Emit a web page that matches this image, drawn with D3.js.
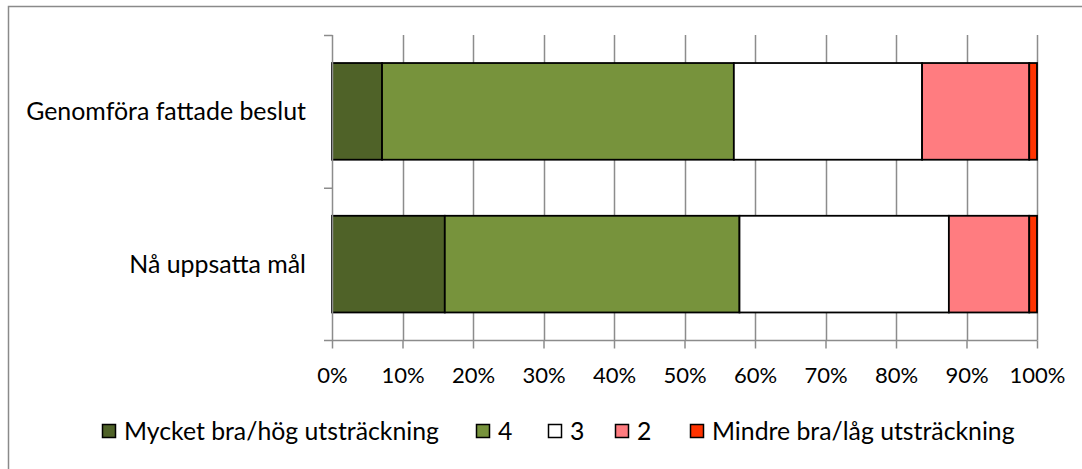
<!DOCTYPE html>
<html><head><meta charset="utf-8">
<script src="https://cdn.jsdelivr.net/npm/d3@7"></script>
<style>body{margin:0;background:#fff}svg{display:block}text{font-family:Lato,"Open Sans",sans-serif;fill:#000}</style>
</head><body>
<svg id="c" width="1082" height="469"></svg>
<script>
const categories = ["Genomföra fattade beslut", "Nå uppsatta mål"];
const seriesNames = ["Mycket bra/hög utsträckning", "4", "3", "2", "Mindre bra/låg utsträckning"];
const seriesColors = ["#4F6228", "#77933C", "#FFFFFF", "#FF7C80", "#FF3300"];
const genomforaValues = [7.1, 49.9, 26.7, 15.2, 1.1];
const naValues = [16.0, 41.8, 29.7, 11.4, 1.1];
const tickValues = [0, 10, 20, 30, 40, 50, 60, 70, 80, 90, 100];
const tickLabels = ["0%", "10%", "20%", "30%", "40%", "50%", "60%", "70%", "80%", "90%", "100%"];

const valuesByCat = [genomforaValues, naValues];
const svg = d3.select("#c");

// chart border (left/top visible)
svg.append("rect").attr("x", 8.5).attr("y", 6.5).attr("width", 1200).attr("height", 600)
  .attr("fill", "none").attr("stroke", "#8a8a8a").attr("stroke-width", 1.5);

const x = d3.scaleLinear().domain([0, 100]).range([332, 1037]);
const y = d3.scaleBand().domain(categories).range([35, 340.5]).paddingInner(0.367).paddingOuter(0.1835);

function fitSize(str, target) {
  const t = svg.append("text").attr("font-size", 20).text(str);
  const w = t.node().getComputedTextLength();
  t.remove();
  return 20 * target / w;
}
const catSize = fitSize(categories[0], 280);
const legSize = fitSize(seriesNames[0], 315);
const tickSize = fitSize("100%", 56);

// gridlines
svg.append("g").selectAll("line").data(tickValues.slice(1)).join("line")
  .attr("x1", d => Math.round(x(d)) + 0.5).attr("x2", d => Math.round(x(d)) + 0.5)
  .attr("y1", 35).attr("y2", 340.5)
  .attr("stroke", "#8c8c8c").attr("stroke-width", 1.5);

// bars
const stacked = categories.map((c, i) => {
  let acc = 0;
  return valuesByCat[i].map((v, j) => { const s = acc; acc += v; return {cat: c, j, x0: s, x1: acc}; });
}).flat();
svg.append("g").selectAll("rect").data(stacked).join("rect")
  .attr("x", d => x(d.x0)).attr("width", d => x(d.x1) - x(d.x0))
  .attr("y", d => y(d.cat)).attr("height", y.bandwidth())
  .attr("fill", d => seriesColors[d.j]).attr("stroke", "#000").attr("stroke-width", 1.8);

// x axis
const xAxis = d3.axisBottom(x).tickValues(tickValues).tickFormat((d, i) => tickLabels[i])
  .tickSizeInner(8).tickSizeOuter(0).tickPadding(19);
const gx = svg.append("g").attr("transform", "translate(0,340.5)").call(xAxis);
gx.select(".domain").attr("stroke", "#8c8c8c").attr("stroke-width", 1.5).attr("d", "M324,0H1037");
gx.selectAll(".tick line").attr("stroke", "#8c8c8c").attr("stroke-width", 1.5);
gx.selectAll(".tick text").attr("font-size", tickSize).attr("font-family", "Lato").attr("fill", "#000");

// y axis
const yAxisLine = svg.append("g");
yAxisLine.append("line").attr("x1", 332.5).attr("x2", 332.5).attr("y1", 35).attr("y2", 340.5)
  .attr("stroke", "#8c8c8c").attr("stroke-width", 1.5);
const bounds = [y.range()[0], ...categories.slice(1).map(c => y(c) - y.step() * y.paddingInner() / 2)];
yAxisLine.selectAll(".yt").data(bounds).join("line").attr("class", "yt")
  .attr("x1", 324).attr("x2", 332.5).attr("y1", d => d + 0.5).attr("y2", d => d + 0.5)
  .attr("stroke", "#8c8c8c").attr("stroke-width", 1.5);
svg.append("g").selectAll("text").data(categories).join("text")
  .attr("x", 306).attr("y", d => y(d) + y.bandwidth() / 2)
  .attr("dy", "0.35em").attr("text-anchor", "end").attr("font-size", catSize).text(d => d);

// legend
const legendX = [102, 476, 548, 615, 690];
const lg = svg.append("g");
seriesNames.forEach((name, i) => {
  const lx = legendX[i];
  lg.append("rect").attr("x", lx + 0.5).attr("y", 424.5).attr("width", 13).attr("height", 13)
    .attr("fill", seriesColors[i]).attr("stroke", "#000").attr("stroke-width", 1.5);
  lg.append("text").attr("x", lx + 22).attr("y", 431).attr("dy", "0.35em")
    .attr("font-size", legSize).text(name);
});
</script>
</body></html>
